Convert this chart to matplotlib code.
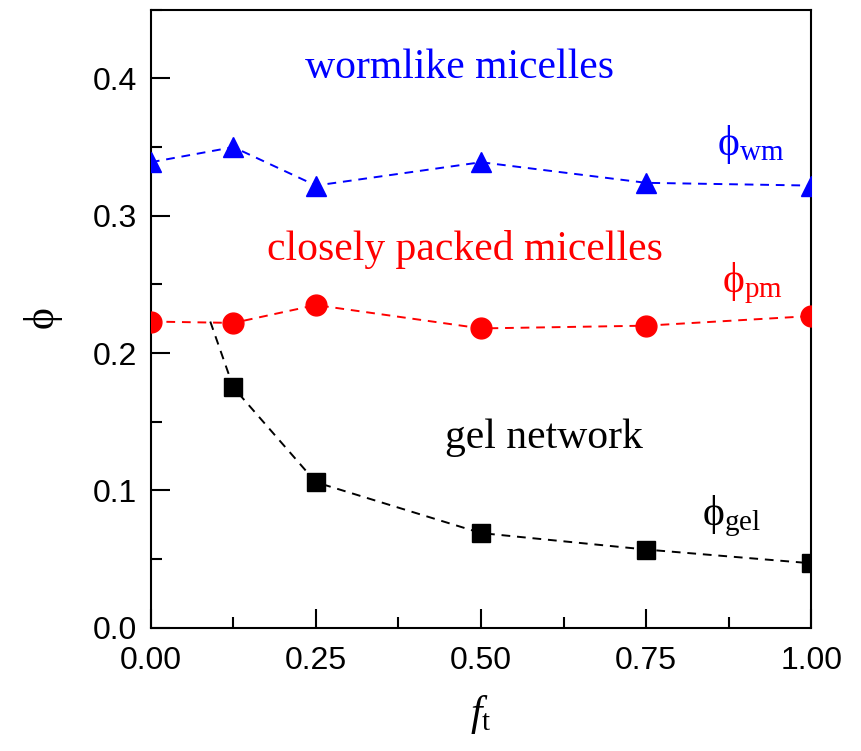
import numpy as np
import matplotlib
matplotlib.use('Agg')
import matplotlib.pyplot as plt
from matplotlib.ticker import MultipleLocator

plt.rcParams['mathtext.fontset'] = 'custom'
plt.rcParams['mathtext.rm'] = 'Liberation Serif'
plt.rcParams['mathtext.it'] = 'Liberation Serif:italic'

# Data
f_t = [0.0, 0.125, 0.25, 0.5, 0.75, 1.0]
phi_wm = [0.339, 0.350, 0.322, 0.339, 0.324, 0.322]
phi_pm = [0.223, 0.222, 0.235, 0.218, 0.220, 0.227]
f_gel = [0.125, 0.25, 0.5, 0.75, 1.0]
phi_gel = [0.175, 0.106, 0.069, 0.057, 0.047]
gel_start = (0.09, 0.223)  # where the gel boundary leaves the pm line

blue = '#0000ff'
red = '#ff0000'
dash = (0, (4.5, 3.5))

fig = plt.figure(figsize=(8.62, 7.51), dpi=100)
ax = fig.add_axes([0.175, 0.164, 0.766, 0.823])

ax.plot(f_t, phi_wm, color=blue, ls=dash, lw=1.4, marker='^', ms=15, zorder=3)
ax.plot(f_t, phi_pm, color=red, ls=dash, lw=1.4, marker='o', ms=15, zorder=3)
ax.plot([gel_start[0]] + f_gel, [gel_start[1]] + phi_gel, color='black', ls=dash, lw=1.4, zorder=2)
ax.plot(f_gel, phi_gel, ls='none', color='black', marker='s', ms=12.5, zorder=3)

serif = 'Liberation Serif'
ax.text(0.468, 0.400, 'wormlike micelles', color=blue, family=serif, fontsize=30, ha='center', va='baseline')
ax.text(0.475, 0.2676, 'closely packed micelles', color=red, family=serif, fontsize=30, ha='center', va='baseline')
ax.text(0.595, 0.1309, 'gel network', color='black', family=serif, fontsize=30, ha='center', va='baseline')
ax.text(0.858, 0.352, r'$\mathrm{\phi}_{\mathrm{wm}}$', color=blue, fontsize=30, ha='left', va='center')
ax.text(0.865, 0.251, r'$\mathrm{\phi}_{\mathrm{pm}}$', color=red, fontsize=30, ha='left', va='center')
ax.text(0.835, 0.081, r'$\mathrm{\phi}_{\mathrm{gel}}$', color='black', fontsize=30, ha='left', va='center')

ax.set_xlim(0, 1.0)
ax.set_ylim(0, 0.45)
ax.xaxis.set_major_locator(MultipleLocator(0.25))
ax.xaxis.set_minor_locator(MultipleLocator(0.125))
ax.yaxis.set_major_locator(MultipleLocator(0.1))
ax.yaxis.set_minor_locator(MultipleLocator(0.05))
ax.xaxis.set_major_formatter(lambda v, p: f'{v:.2f}')
ax.yaxis.set_major_formatter(lambda v, p: f'{v:.1f}')
ax.tick_params(which='both', direction='in', width=1.5, top=False, right=False)
ax.tick_params(which='major', length=14, labelsize=23, labelfontfamily='Liberation Sans')
ax.tick_params(axis='y', which='major', pad=10)
ax.tick_params(axis='x', which='major', pad=13)
ax.tick_params(which='minor', length=8)
for s in ax.spines.values():
    s.set_linewidth(1.5)

ax.set_xlabel(r'$f_{\mathrm{t}}$', fontsize=30, labelpad=12)
ax.set_ylabel(r'$\mathrm{\phi}$', fontsize=30, labelpad=20)

fig.savefig('out.png', dpi=100)
